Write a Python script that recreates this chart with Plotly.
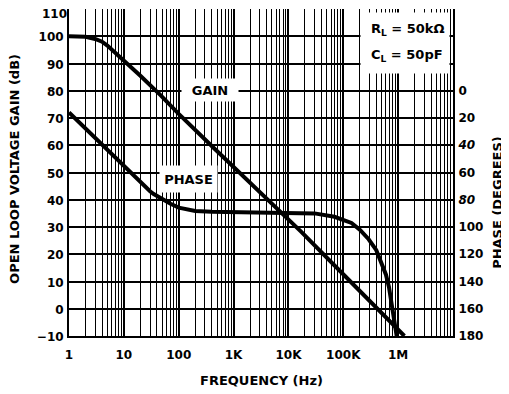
import plotly.graph_objects as go

# ---- data ----
gain_freq = [1, 2, 3, 4, 5, 7, 10, 15, 20, 47, 100, 436, 1100, 6400, 17000, 105000, 760000, 1300000]
gain_db = [100, 99.8, 99, 98, 96.6, 94, 91, 88, 85.5, 78.3, 71.5, 59, 51.2, 36.5, 28.3, 12.2, -5, -10]

phase_freq = [1, 10, 22, 27, 30, 35, 47, 71, 100, 150, 200, 400, 1000, 10000, 30000, 69000, 100000,
              141000, 200000, 290000, 400000, 500000, 600000, 680000, 760000, 870000, 940000]
phase_deg = [16, 55.5, 69.2, 72.3, 73.8, 75.8, 79, 83, 85.8, 87.5, 88.3, 88.8, 89, 89.5, 90, 92.5,
             94.5, 97, 102, 109, 117, 126, 135, 144, 155, 170, 180]

x_tickvals = [1, 10, 100, 1e3, 1e4, 1e5, 1e6]
x_ticktext = ["1", "10", "100", "1K", "10K", "100K", "1M"]
gain_tickvals = [-10, 0, 10, 20, 30, 40, 50, 60, 70, 80, 90, 100]
gain_top_tick = [110]
phase_tickvals = [-40, -20, 0, 20, 40, 60, 80, 100, 120, 140, 160, 180]
phase_ticktext = ["", "", "0", "20", "<i>40</i>", "60", "<i>80</i>", "100", "120", "140", "160", "180"]

FONT = "DejaVu Sans"

fig = go.Figure()
fig.add_trace(go.Scatter(x=gain_freq, y=gain_db, mode="lines",
                         line=dict(color="black", width=4),
                         hoverinfo="skip"))
fig.add_trace(go.Scatter(x=phase_freq, y=phase_deg, mode="lines", yaxis="y2",
                         line=dict(color="black", width=4),
                         hoverinfo="skip"))

tickfont = dict(family=FONT, size=12, color="black", weight="bold")

# page body has an 8px default margin, so the figure is 8px smaller and margins shifted
fig.update_layout(
    width=501, height=386,
    margin=dict(l=61, r=56, t=1, b=58),
    plot_bgcolor="white", paper_bgcolor="white",
    showlegend=False,
    xaxis=dict(type="log", range=[0, 7], tickmode="array", tickvals=x_tickvals, ticktext=x_ticktext,
               showgrid=True, gridcolor="black", gridwidth=2,
               minor=dict(dtick="D1", showgrid=True, gridcolor="black", gridwidth=1.3),
               showline=True, linecolor="black", linewidth=2, ticks="",
               tickfont=tickfont, ticklabelstandoff=7, zeroline=False, automargin=False),
    yaxis=dict(range=[-10, 110], tickmode="array", tickvals=gain_tickvals, showgrid=False,
               showline=True, linecolor="black", linewidth=2, ticks="", zeroline=False,
               tickfont=tickfont, ticklabelstandoff=1, ticklabelshift=1, automargin=False),
    yaxis3=dict(overlaying="y", side="left", range=[-10, 110], tickmode="array",
                tickvals=gain_top_tick, showgrid=False, showline=False, ticks="", zeroline=False,
                tickfont=tickfont, ticklabelstandoff=1, ticklabelshift=5, automargin=False,
                ticklabeloverflow="allow"),
    yaxis2=dict(overlaying="y", side="right", range=[180, -60], tickmode="array",
                tickvals=phase_tickvals, ticktext=phase_ticktext,
                showgrid=True, gridcolor="black", gridwidth=2,
                showline=True, linecolor="black", linewidth=2, ticks="", zeroline=False,
                tickfont=tickfont, ticklabelstandoff=1, automargin=False),
)
# invisible helper trace so the top-tick axis is drawn
fig.add_trace(go.Scatter(x=[gain_freq[0]], y=[gain_db[0]], yaxis="y3", mode="markers",
                         marker=dict(opacity=0), hoverinfo="skip"))

title_font = dict(family=FONT, size=13, color="black", weight="bold")
label_font = dict(family=FONT, size=13, color="black", weight="bold")

annotations = [
    dict(text="OPEN LOOP VOLTAGE GAIN (dB)", textangle=-90, x=-0.1406, y=0.511,
         xanchor="center", yanchor="middle",
         xref="paper", yref="paper", showarrow=False, font=title_font),
    dict(text="PHASE (DEGREES)", textangle=-90, x=1.117, y=0.41,
         xanchor="center", yanchor="middle",
         xref="paper", yref="paper", showarrow=False, font=title_font),
    dict(text="FREQUENCY (Hz)", x=0.5026, y=-0.1346, xanchor="center", yanchor="middle",
         xref="paper", yref="paper", showarrow=False, font=title_font),
    dict(text="GAIN", x=0.367, y=0.752, xanchor="center", yanchor="middle",
         xref="paper", yref="paper", showarrow=False,
         font=label_font, bgcolor="white", width=56, height=22, borderpad=0),
    dict(text="PHASE", x=0.310, y=0.480, xanchor="center", yanchor="middle",
         xref="paper", yref="paper", showarrow=False,
         font=label_font, bgcolor="white", width=57, height=26, borderpad=0),
    dict(text=" ", x=0.758, y=0.991, xanchor="left", yanchor="top", xref="paper", yref="paper",
         showarrow=False, bgcolor="white", width=88, height=60, borderpad=0),
    dict(text="R<sub>L</sub> = 50kΩ", x=0.781, y=0.936, xanchor="left", yanchor="middle",
         xref="paper", yref="paper", showarrow=False, font=label_font),
    dict(text="C<sub>L</sub> = 50pF", x=0.781, y=0.859, xanchor="left", yanchor="middle",
         xref="paper", yref="paper", showarrow=False, font=label_font),
]
fig.update_layout(annotations=annotations)

fig.write_html("out.html")
